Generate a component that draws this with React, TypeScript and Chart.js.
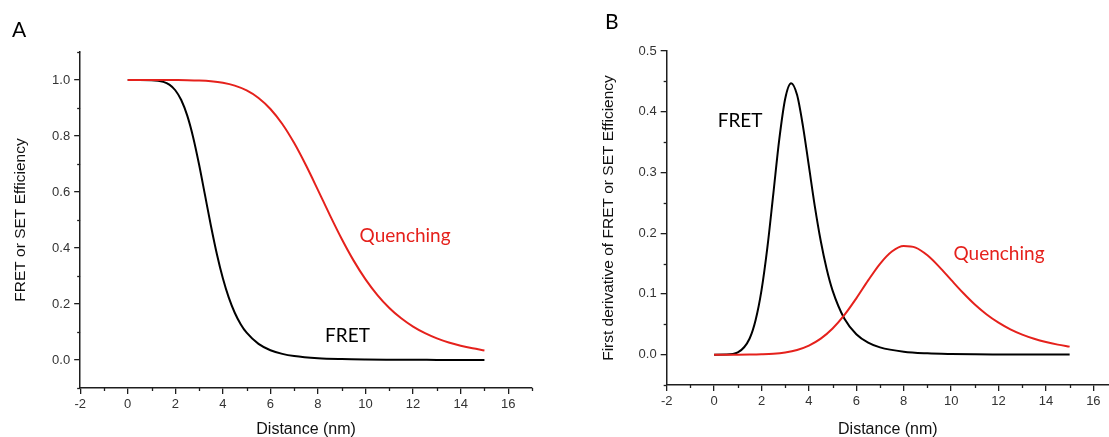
import React, { useEffect, useRef } from "react";
import { Chart, registerables } from "chart.js";

Chart.register(...registerables);

// ---------- data ----------
const fretDistance = [0, 0.5, 1, 1.5, 1.75, 2, 2.25, 2.5, 2.75, 3, 3.25, 3.5, 3.75, 4, 4.25, 4.5, 4.75, 5, 5.5, 6, 6.5, 7, 8, 9, 10, 11, 12, 13, 14, 15];
const fretEfficiency = [1, 1, 0.9994, 0.9933, 0.9833, 0.9634, 0.9286, 0.8735, 0.7959, 0.6982, 0.5887, 0.4784, 0.3775, 0.2916, 0.2225, 0.1688, 0.128, 0.0974, 0.0574, 0.0349, 0.0219, 0.0141, 0.0064, 0.0032, 0.0017, 0.001, 0.0006, 0.0004, 0.0002, 0.0002];
const fretDerivative = [0, 0.0001, 0.0036, 0.0266, 0.0565, 0.1057, 0.1769, 0.2652, 0.3545, 0.4215, 0.447, 0.4278, 0.376, 0.3103, 0.2442, 0.1871, 0.141, 0.1055, 0.059, 0.0336, 0.0197, 0.0119, 0.0048, 0.0021, 0.001, 0.0005, 0.0003, 0.0002, 0.0001, 0.0001];

const quenchDistance = [0, 0.5, 1, 1.5, 2, 2.5, 3, 3.5, 4, 4.5, 5, 5.5, 6, 6.5, 7, 7.5, 8, 8.5, 9, 9.5, 10, 10.5, 11, 11.5, 12, 12.5, 13, 13.5, 14, 14.5, 15];
const quenchEfficiency = [1, 1, 1, 1, 0.9998, 0.9994, 0.9982, 0.9955, 0.99, 0.9799, 0.9628, 0.936, 0.8966, 0.8429, 0.7747, 0.6944, 0.6068, 0.5175, 0.4322, 0.3549, 0.288, 0.2319, 0.1859, 0.1489, 0.1193, 0.0959, 0.0773, 0.0626, 0.051, 0.0417, 0.0343];
const quenchDerivative = [0, 0, 0, 0.0001, 0.0005, 0.0014, 0.0036, 0.0077, 0.0149, 0.0263, 0.043, 0.0654, 0.0927, 0.1222, 0.1496, 0.1698, 0.1789, 0.1763, 0.1636, 0.1446, 0.123, 0.1018, 0.0825, 0.0661, 0.0526, 0.0416, 0.0329, 0.0261, 0.0207, 0.0165, 0.0132];

const xMajorTicks = [-2, 0, 2, 4, 6, 8, 10, 12, 14, 16];
const xMinorTicks = [-1, 1, 3, 5, 7, 9, 11, 13, 15, 17];
const effMajorTicks = [0, 0.2, 0.4, 0.6, 0.8, 1.0];
const effMinorTicks = [-0.1, 0.1, 0.3, 0.5, 0.7, 0.9, 1.1];
const derivMajorTicks = [0, 0.1, 0.2, 0.3, 0.4, 0.5];
const derivMinorTicks = [-0.05, 0.05, 0.15, 0.25, 0.35, 0.45];

const xTitle = "Distance (nm)";
const effTitle = "FRET or SET Efficiency";
const derivTitle = "First derivative of FRET or SET Efficiency";
const fretLabel = "FRET";
const quenchLabel = "Quenching";

const BLACK = "#000000";
const RED = "#e5211c";
const AXIS = "#1e1e1e";
const TICK_TEXT = "#333333";
const SANS = "'Liberation Sans', Arial, sans-serif";
const NOTE_FONT = "Lato, 'Open Sans', sans-serif";

type Note = { text: string; x: number; y: number; color: string };

const decorPlugin = {
  id: "decor",
  afterDraw(chart: any, _args: any, opts: any) {
    const ctx = chart.ctx as CanvasRenderingContext2D;
    const xs = chart.scales.x;
    const ys = chart.scales.y;
    ctx.save();
    ctx.strokeStyle = AXIS;
    ctx.lineWidth = 1.3;
    for (const v of opts.xMinor as number[]) {
      if (v > xs.max + 1e-9 || v < xs.min - 1e-9) continue;
      const px = Math.round(xs.getPixelForValue(v)) + 0.5;
      ctx.beginPath();
      ctx.moveTo(px, ys.bottom);
      ctx.lineTo(px, ys.bottom + 3);
      ctx.stroke();
    }
    for (const v of opts.yMinor as number[]) {
      if (v > ys.max + 1e-9 || v < ys.min - 1e-9) continue;
      const py = Math.round(ys.getPixelForValue(v)) + 0.5;
      ctx.beginPath();
      ctx.moveTo(xs.left, py);
      ctx.lineTo(xs.left - 3, py);
      ctx.stroke();
    }
    ctx.textBaseline = "middle";
    ctx.textAlign = "left";
    ctx.font = `19px ${NOTE_FONT}`;
    for (const n of opts.notes as Note[]) {
      ctx.fillStyle = n.color;
      ctx.fillText(n.text, xs.getPixelForValue(n.x), ys.getPixelForValue(n.y));
    }
    ctx.textBaseline = "alphabetic";
    ctx.font = `21px ${NOTE_FONT}`;
    ctx.fillStyle = "#000";
    ctx.fillText(opts.letter, opts.letterX, opts.letterY);
    ctx.restore();
  },
};

type PanelProps = {
  left: number;
  width: number;
  series: { x: number[]; y: number[]; color: string }[];
  yMin: number;
  yMax: number;
  xMax: number;
  yMajor: number[];
  yMinor: number[];
  yTitle: string;
  yTitlePad: { top: number; bottom: number };
  xTitlePadTop: number;
  padding: { left: number; right: number; top: number; bottom: number };
  notes: Note[];
  letter: string;
  letterX: number;
  letterY: number;
};

function Panel(p: PanelProps) {
  const ref = useRef<HTMLCanvasElement>(null);
  useEffect(() => {
    if (!ref.current) return;
    const chart = new Chart(ref.current, {
      type: "line",
      data: {
        datasets: p.series.map((s) => ({
          data: s.x.map((x, i) => ({ x, y: s.y[i] })),
          borderColor: s.color,
          borderWidth: 2,
          pointRadius: 0,
          fill: false,
          cubicInterpolationMode: "monotone" as const,
        })),
      },
      options: {
        animation: false,
        responsive: false,
        maintainAspectRatio: false,
        layout: { padding: p.padding },
        plugins: {
          legend: { display: false },
          tooltip: { enabled: false },
          decor: {
            xMinor: xMinorTicks,
            yMinor: p.yMinor,
            notes: p.notes,
            letter: p.letter,
            letterX: p.letterX,
            letterY: p.letterY,
          },
        } as any,
        scales: {
          x: {
            type: "linear",
            min: -2,
            max: p.xMax,
            afterBuildTicks: (scale: any) => {
              scale.ticks = xMajorTicks.map((v) => ({ value: v }));
            },
            ticks: {
              callback: (v: any) => String(v),
              font: { size: 13, family: SANS },
              color: TICK_TEXT,
              padding: 3,
              maxRotation: 0,
              autoSkip: false,
            },
            grid: { drawOnChartArea: false, drawTicks: true, tickLength: 6, tickColor: AXIS, lineWidth: 1.3 },
            border: { display: true, color: AXIS, width: 1.5 },
            title: {
              display: true,
              text: xTitle,
              font: { size: 16, family: SANS },
              color: "#111",
              padding: { top: p.xTitlePadTop, bottom: 0 },
            },
          },
          y: {
            type: "linear",
            min: p.yMin,
            max: p.yMax,
            afterBuildTicks: (scale: any) => {
              scale.ticks = p.yMajor.map((v) => ({ value: v }));
            },
            ticks: {
              callback: (v: any) => Number(v).toFixed(1),
              font: { size: 13, family: SANS },
              color: TICK_TEXT,
              padding: 4,
              autoSkip: false,
            },
            grid: { drawOnChartArea: false, drawTicks: true, tickLength: 6, tickColor: AXIS, lineWidth: 1.3 },
            border: { display: true, color: AXIS, width: 1.5 },
            title: {
              display: true,
              text: p.yTitle,
              font: { size: 15.5, family: SANS },
              color: "#111",
              padding: p.yTitlePad,
            },
          },
        },
      },
      plugins: [decorPlugin],
    });
    return () => chart.destroy();
  }, []);
  return (
    <canvas
      ref={ref}
      width={p.width}
      height={437}
      style={{ position: "absolute", left: p.left, top: 0, width: p.width, height: 437, display: "block" }}
    />
  );
}

export default function App() {
  return (
    <div style={{ position: "absolute", left: 0, top: 0, width: 1109, height: 437, background: "#fff", overflow: "hidden" }}>
      <Panel
        left={0}
        width={560}
        series={[
          { x: quenchDistance, y: quenchEfficiency, color: RED },
          { x: fretDistance, y: fretEfficiency, color: BLACK },
        ]}
        yMin={-0.1}
        yMax={1.1}
        xMax={17}
        yMajor={effMajorTicks}
        yMinor={effMinorTicks}
        yTitle={effTitle}
        yTitlePad={{ top: 11, bottom: 18.5 }}
        xTitlePadTop={4.2}
        padding={{ left: 0, right: 28, top: 52, bottom: -2 }}
        notes={[
          { text: quenchLabel, x: 9.75, y: 0.444, color: RED },
          { text: fretLabel, x: 8.3, y: 0.085, color: BLACK },
        ]}
        letter="A"
        letterX={12}
        letterY={37}
      />
      <Panel
        left={560}
        width={549}
        series={[
          { x: quenchDistance, y: quenchDerivative, color: RED },
          { x: fretDistance, y: fretDerivative, color: BLACK },
        ]}
        yMin={-0.05}
        yMax={0.5}
        xMax={16.66}
        yMajor={derivMajorTicks}
        yMinor={derivMinorTicks}
        yTitle={derivTitle}
        yTitlePad={{ top: 39, bottom: 17 }}
        xTitlePadTop={7.2}
        padding={{ left: 0, right: 0, top: 51, bottom: -2 }}
        notes={[
          { text: fretLabel, x: 0.15, y: 0.385, color: BLACK },
          { text: quenchLabel, x: 10.1, y: 0.1667, color: RED },
        ]}
        letter="B"
        letterX={45}
        letterY={29}
      />
    </div>
  );
}
